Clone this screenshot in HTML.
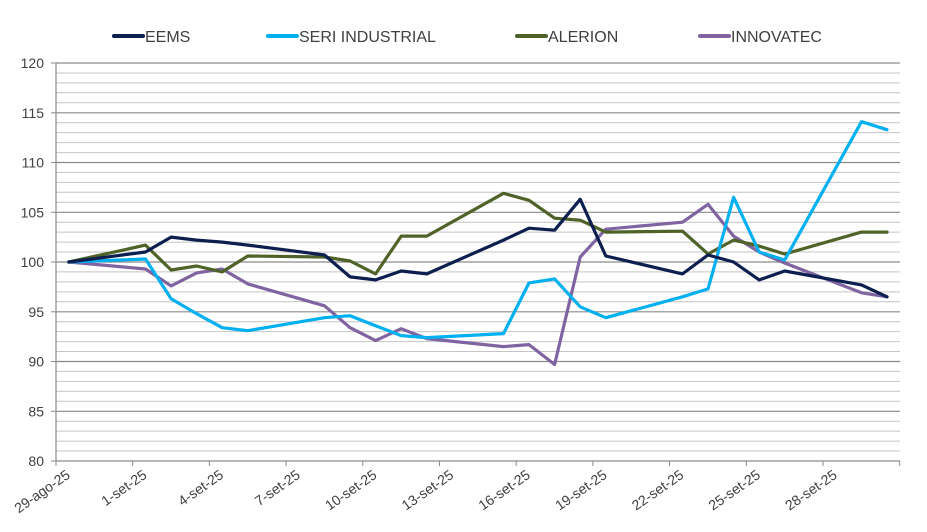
<!DOCTYPE html>
<html><head><meta charset="utf-8"><style>
html,body{margin:0;padding:0;background:#fff;}
svg text{font-family:"Liberation Sans",sans-serif;fill:#404040;}
</style></head><body>
<svg id="s" width="927" height="527" xmlns="http://www.w3.org/2000/svg"></svg>
<script>
const s=document.getElementById('s');
let h='';
const Y=v=>63+(120-v)*9.95;
const X=d=>56+25.57*(d+0.5);
for(let v=80;v<=120;v++){
  const y=Y(v).toFixed(1);
  const maj=v%5==0;
  h+=`<line x1="56" x2="900" y1="${y}" y2="${y}" stroke="${maj?'#8a8a8a':'#c4c4c4'}" stroke-width="${maj?1.2:1}"/>`;
  if(maj){h+=`<line x1="51" x2="56" y1="${y}" y2="${y}" stroke="#8a8a8a"/>`;
  h+=`<text x="44" y="${+y+5}" font-size="14" text-anchor="end">${v}</text>`;}
}
h+=`<line x1="56" x2="56" y1="63" y2="461" stroke="#8a8a8a" stroke-width="1.2"/>`;
const labs=['29-ago-25','1-set-25','4-set-25','7-set-25','10-set-25','13-set-25','16-set-25','19-set-25','22-set-25','25-set-25','28-set-25',''];
for(let i=0;i<12;i++){
  const x=56+i*76.7;
  h+=`<line x1="${x}" x2="${x}" y1="461" y2="466" stroke="#8a8a8a"/>`;
  if(labs[i])h+=`<text font-size="14" text-anchor="end" transform="translate(${x+15},${477}) rotate(-35)">${labs[i]}</text>`;
}
const days=[0,3,4,5,6,7,10,11,12,13,14,17,18,19,20,21,24,25,26,27,28,31,32];
const S=[
['#8064a2',[100,99.3,97.6,98.9,99.3,97.8,95.6,93.4,92.1,93.3,92.3,91.5,91.7,89.7,100.5,103.3,104.0,105.8,102.6,101.0,99.9,96.9,96.5]],
['#4f6228',[100,101.7,99.2,99.6,99.0,100.6,100.5,100.1,98.8,102.6,102.6,106.9,106.2,104.4,104.2,103.0,103.1,100.8,102.2,101.6,100.8,103.0,103.0]],
['#00b0f0',[100,100.3,96.3,94.8,93.4,93.1,94.4,94.6,93.6,92.6,92.4,92.8,97.9,98.3,95.5,94.4,96.5,97.3,106.5,101.0,100.2,114.1,113.3]],
['#0d1f4f',[100,101.0,102.5,102.2,102.0,101.7,100.7,98.5,98.2,99.1,98.8,102.2,103.4,103.2,106.3,100.6,98.8,100.7,100.0,98.2,99.1,97.7,96.5]]
];
for(const [c,v] of S){
  h+=`<polyline fill="none" stroke="${c}" stroke-width="3.2" stroke-linejoin="round" stroke-linecap="round" points="${v.map((a,i)=>X(days[i]).toFixed(1)+','+Y(a).toFixed(1)).join(' ')}"/>`;
}
const L=[['#0d1f4f','EEMS',114],['#00b0f0','SERI INDUSTRIAL',268],['#4f6228','ALERION',517],['#8064a2','INNOVATEC',700]];
for(const [c,t,x] of L){
  h+=`<line x1="${x}" x2="${x+29}" y1="36" y2="36" stroke="${c}" stroke-width="4" stroke-linecap="round"/>`;
  h+=`<text x="${x+31}" y="42" font-size="16">${t}</text>`;
}
s.innerHTML=h;
</script>
</body></html>
